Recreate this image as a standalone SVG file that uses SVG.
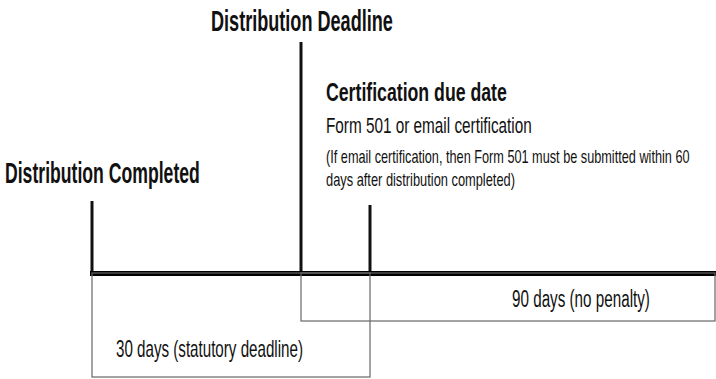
<svg xmlns="http://www.w3.org/2000/svg" width="716" height="379" viewBox="0 0 716 379">
  <style>
    text { font-family: "Liberation Sans", Arial, sans-serif; fill: #111; }
    .title { font-weight: bold; }
    .tick { stroke: #111; stroke-width: 3; fill: none; }
    .axis { stroke: #000; stroke-width: 5; fill: none; }
    .span { stroke: #666; stroke-width: 1.2; fill: none; }
  </style>
  <rect width="716" height="379" fill="#fff"/>

  <g id="connectors">
    <line class="tick" x1="92" y1="201" x2="92" y2="275"/>
    <line class="tick" x1="301" y1="42" x2="301" y2="275"/>
    <line class="tick" x1="370" y1="205" x2="370" y2="275"/>
    <line class="axis" x1="90" y1="273.5" x2="716" y2="273.5"/>
  </g>

  <g id="distribution-deadline">
    <text class="title" font-size="29" transform="translate(211,31) scale(0.624,1)">Distribution Deadline</text>
  </g>

  <g id="distribution-completed">
    <text class="title" font-size="29" transform="translate(5,183) scale(0.608,1)">Distribution Completed</text>
  </g>

  <g id="certification-due-date">
    <text class="title" font-size="25" transform="translate(326,101) scale(0.708,1)">Certification due date</text>
    <text font-size="22" transform="translate(326,133) scale(0.696,1)">Form 501 or email certification</text>
    <text font-size="18.5" transform="translate(326,163) scale(0.687,1)">(If email certification, then Form 501 must be submitted within 60</text>
    <text font-size="18.5" transform="translate(326,186) scale(0.694,1)">days after distribution completed)</text>
  </g>

  <g id="span-90-days">
    <rect class="span" x="301" y="273" width="414" height="48"/>
    <text font-size="23" transform="translate(512,307) scale(0.662,1)">90 days (no penalty)</text>
  </g>

  <g id="span-30-days">
    <rect class="span" x="92" y="273" width="278" height="104"/>
    <text font-size="23" transform="translate(116,357) scale(0.659,1)">30 days (statutory deadline)</text>
  </g>
</svg>
